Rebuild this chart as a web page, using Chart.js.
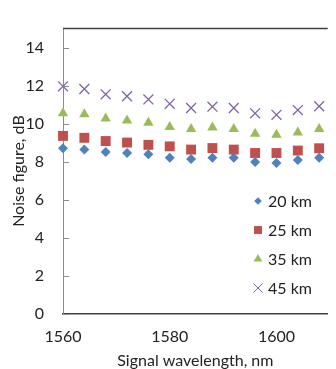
<!DOCTYPE html>
<html>
<head>
<meta charset="utf-8">
<script src="https://cdn.jsdelivr.net/npm/chart.js@4/dist/chart.umd.min.js"></script>
<style>
  html, body { margin: 0; padding: 0; background: #fff; }
  #wrap { width: 336px; height: 369px; position: relative; }
</style>
</head>
<body>
<div id="wrap"><canvas id="c" width="336" height="369"></canvas></div>
<script>
// Signal wavelength, nm
const wavelengths = [1560, 1564, 1568, 1572, 1576, 1580, 1584, 1588, 1592, 1596, 1600, 1604, 1608];

// Noise figure, dB, per fibre length
const nf20km = [8.70, 8.63, 8.50, 8.45, 8.38, 8.20, 8.13, 8.20, 8.20, 7.97, 7.93, 8.08, 8.20];
const nf25km = [9.35, 9.25, 9.08, 9.00, 8.88, 8.80, 8.63, 8.71, 8.63, 8.45, 8.45, 8.58, 8.70];
const nf35km = [10.54, 10.49, 10.27, 10.16, 10.04, 9.82, 9.71, 9.79, 9.71, 9.46, 9.41, 9.53, 9.71];
const nf45km = [11.96, 11.82, 11.54, 11.44, 11.27, 11.04, 10.82, 10.89, 10.82, 10.54, 10.46, 10.71, 10.91];

const seriesLabels = ['20 km', '25 km', '35 km', '45 km'];
const xTickValues = [1560, 1580, 1600];
const yTickValues = [0, 2, 4, 6, 8, 10, 12, 14];

const FONT = 'Lato, "Open Sans", sans-serif';

function pts(ys) { return wavelengths.map((x, i) => ({ x: x, y: ys[i] })); }

const styles = [
  { pointStyle: 'rectRot', radius: 5, color: '#4F81BD', legendRadius: 3.8 },
  { pointStyle: 'rect', radius: 7, color: '#C0504D', legendRadius: 5.6 },
  { pointStyle: 'triangle', radius: 6, color: '#9BBB59', legendRadius: 5 },
  { pointStyle: 'crossRot', radius: 7, color: '#8064A2', legendRadius: 6.4 }
];
const series = [nf20km, nf25km, nf35km, nf45km];

const datasets = series.map((ys, i) => ({
  label: seriesLabels[i],
  data: pts(ys),
  showLine: false,
  clip: false,
  pointStyle: styles[i].pointStyle,
  pointRadius: styles[i].radius,
  pointHoverRadius: styles[i].radius,
  pointBackgroundColor: styles[i].color,
  pointBorderColor: styles[i].color,
  pointBorderWidth: styles[i].pointStyle === 'crossRot' ? 1.3 : 0
}));

// Frame line on top, inward tick marks on the value axis, and the in-plot legend
const decorations = {
  id: 'decorations',
  afterDraw(chart) {
    const { ctx, chartArea: a, scales } = chart;
    ctx.save();
    ctx.strokeStyle = '#404040';
    ctx.lineWidth = 1.5;
    ctx.beginPath();
    ctx.moveTo(a.left, a.top);
    ctx.lineTo(a.right, a.top);
    ctx.stroke();

    ctx.strokeStyle = '#8c8c8c';
    ctx.lineWidth = 1;
    yTickValues.forEach(v => {
      const y = Math.round(scales.y.getPixelForValue(v)) + 0.5;
      ctx.beginPath();
      ctx.moveTo(a.left, y);
      ctx.lineTo(a.left + 6, y);
      ctx.stroke();
    });

    const lx = 258, tx = 268;
    const rows = [201, 230, 259, 288];
    ctx.font = '16px ' + FONT;
    ctx.textBaseline = 'middle';
    ctx.textAlign = 'left';
    styles.forEach((s, i) => {
      ctx.fillStyle = s.color;
      ctx.strokeStyle = s.color;
      Chart.helpers.drawPoint(ctx, {
        pointStyle: s.pointStyle,
        radius: s.legendRadius,
        rotation: 0,
        borderWidth: s.pointStyle === 'crossRot' ? 1.2 : 0
      }, lx, rows[i]);
      ctx.fillStyle = '#222';
      ctx.fillText(seriesLabels[i], tx, rows[i] + 1);
    });
    ctx.restore();
  }
};

new Chart(document.getElementById('c'), {
  type: 'scatter',
  data: { datasets: datasets },
  plugins: [decorations],
  options: {
    responsive: false,
    animation: false,
    layout: { padding: { top: 12, right: 0, bottom: 0, left: 0 } },
    plugins: { legend: { display: false }, tooltip: { enabled: false } },
    scales: {
      x: {
        type: 'linear',
        min: 1560,
        max: 1609.6,
        afterBuildTicks(scale) { scale.ticks = xTickValues.map(v => ({ value: v })); },
        afterFit(scale) { scale.height = 55.5; },
        grid: { display: true, drawOnChartArea: false, drawTicks: false },
        border: { display: true, color: '#404040', width: 1.5 },
        ticks: {
          padding: 14,
          maxRotation: 0,
          color: '#222',
          font: { family: FONT, size: 16 },
          callback: v => String(v)
        },
        title: {
          display: true,
          text: 'Signal wavelength, nm',
          color: '#222',
          font: { family: FONT, size: 16, lineHeight: 1 },
          padding: 0
        }
      },
      y: {
        min: 0,
        max: 15,
        afterBuildTicks(scale) { scale.ticks = yTickValues.map(v => ({ value: v })); },
        afterFit(scale) { scale.width = 63; },
        grid: { display: true, drawOnChartArea: false, drawTicks: false },
        border: { display: true, color: '#8c8c8c', width: 1 },
        ticks: {
          padding: 19,
          color: '#222',
          font: { family: FONT, size: 16 },
          callback: v => String(v)
        },
        title: {
          display: true,
          text: 'Noise figure, dB',
          color: '#222',
          font: { family: FONT, size: 16 },
          padding: { top: 9, bottom: 0 }
        }
      }
    }
  }
});
</script>
</body>
</html>
